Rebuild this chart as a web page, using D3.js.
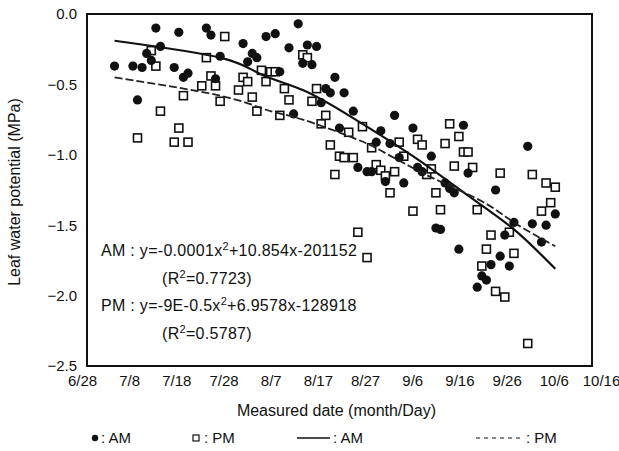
<!DOCTYPE html>
<html>
<head>
<meta charset="utf-8">
<script src="https://cdn.jsdelivr.net/npm/d3@7"></script>
<style>
  body { margin: 0; background: #fff; }
  svg text { font-family: "Liberation Sans", Arial, sans-serif; fill: #111; }
</style>
</head>
<body>
<div id="chart"></div>
<script>
// morning readings (month/day, MPa)
var amDates = ["7/4","7/8","7/9","7/10","7/11","7/12","7/13","7/14","7/17","7/18","7/19","7/20",
  "7/24","7/25","7/26","7/27","8/1","8/2","8/3","8/4","8/6","8/8","8/9","8/11","8/12","8/13",
  "8/14","8/15","8/16","8/17","8/18","8/19","8/20","8/21","8/22","8/23","8/25","8/26","8/28",
  "8/29","8/30","8/31","9/1","9/2","9/3","9/4","9/5","9/7","9/8","9/9","9/11","9/12","9/13",
  "9/14","9/15","9/16","9/17","9/18","9/19","9/21","9/22","9/23","9/24","9/25","9/26","9/27",
  "9/28","9/29","10/2","10/3","10/5","10/6","10/8"];
var amValues = [-0.37,-0.37,-0.61,-0.38,-0.28,-0.33,-0.10,-0.23,-0.38,-0.13,-0.45,-0.42,
  -0.10,-0.15,-0.46,-0.30,-0.21,-0.34,-0.28,-0.31,-0.16,-0.14,-0.41,-0.24,-0.71,-0.07,
  -0.35,-0.22,-0.36,-0.23,-0.63,-0.53,-0.56,-0.45,-0.81,-0.56,-0.69,-1.09,-1.12,
  -1.12,-0.91,-0.83,-1.19,-0.92,-0.72,-1.02,-1.20,-0.81,-1.09,-1.12,-1.01,-1.52,-1.53,
  -1.20,-1.24,-1.27,-1.67,-0.79,-1.13,-1.94,-1.86,-1.89,-1.78,-1.25,-1.72,-1.57,
  -1.79,-1.48,-0.94,-1.49,-1.62,-1.50,-1.42];

// afternoon readings
var pmDates = ["7/9","7/12","7/13","7/14","7/17","7/18","7/19","7/20","7/23","7/24","7/25","7/26",
  "7/27","7/28","7/31","8/1","8/2","8/3","8/4","8/5","8/6","8/7","8/8","8/9","8/10","8/11",
  "8/14","8/15","8/16","8/17","8/18","8/19","8/20","8/21","8/22","8/23","8/24","8/25","8/26",
  "8/27","8/28","8/29","8/30","8/31","9/1","9/2","9/3","9/4","9/5","9/7","9/8","9/9","9/10",
  "9/11","9/12","9/13","9/14","9/15","9/16","9/17","9/18","9/19","9/20","9/21","9/22","9/23",
  "9/24","9/25","9/26","9/27","9/28","9/29","10/2","10/3","10/5","10/6","10/7","10/8"];
var pmValues = [-0.88,-0.26,-0.37,-0.69,-0.91,-0.81,-0.58,-0.91,-0.51,-0.31,-0.44,-0.51,
  -0.62,-0.16,-0.54,-0.45,-0.48,-0.59,-0.69,-0.40,-0.48,-0.41,-0.41,-0.72,-0.53,-0.61,
  -0.29,-0.31,-0.62,-0.53,-0.78,-0.72,-0.93,-1.14,-1.01,-1.02,-0.84,-1.02,-1.55,
  -0.80,-1.73,-0.95,-1.07,-1.11,-1.15,-1.27,-1.12,-0.91,-1.01,-1.40,-0.89,-0.93,-1.14,
  -1.10,-1.27,-1.39,-0.92,-0.78,-1.08,-0.87,-0.98,-0.98,-1.09,-1.39,-1.79,-1.67,
  -1.57,-1.97,-1.13,-2.01,-1.55,-1.70,-2.34,-1.14,-1.40,-1.20,-1.34,-1.23];

// trend lines
var amTrendDates = ["7/4","7/27","8/5","8/14","8/24","9/7","9/19","9/29","10/8"];
var amTrendValues = [-0.19,-0.31,-0.43,-0.54,-0.72,-1.01,-1.29,-1.53,-1.81];
var pmTrendDates = ["7/4","7/27","8/6","8/14","8/25","8/31","9/11","9/22","9/29","10/8"];
var pmTrendValues = [-0.45,-0.58,-0.68,-0.75,-0.88,-0.97,-1.16,-1.33,-1.48,-1.65];

var xTickLabels = ["6/28","7/8","7/18","7/28","8/7","8/17","8/27","9/6","9/16","9/26","10/6","10/16"];
var yTicks = [0, -0.5, -1, -1.5, -2, -2.5];

var eqLines = [
  {label: "AM : y=-0.0001x", sup: "2", rest: "+10.854x-201152", indent: false},
  {label: "(R", sup: "2", rest: "=0.7723)", indent: true},
  {label: "PM : y=-9E-0.5x", sup: "2", rest: "+6.9578x-128918", indent: false},
  {label: "(R", sup: "2", rest: "=0.5787)", indent: true}
];

var W = 619, H = 451;
var margin = {top: 14, right: 27, bottom: 85, left: 87};
var width = W - margin.left - margin.right,
    height = H - margin.top - margin.bottom;

var parse = function(s) {
  var p = s.split("/");
  return new Date(2009, +p[0] - 1, +p[1]);
};

var svg = d3.select("#chart").append("svg")
  .attr("width", W).attr("height", H)
  .append("g")
  .attr("transform", "translate(" + margin.left + "," + margin.top + ")");

var x = d3.scaleTime()
  .domain([parse(xTickLabels[0]), parse(xTickLabels[xTickLabels.length - 1])])
  .range([0, width]);
var y = d3.scaleLinear().domain([0, -2.5]).range([0, height]);

// the printed labels sit a little wider than the frame
var xLab = x.copy().range([-5, width + 9]);

svg.append("g")
  .attr("transform", "translate(0," + height + ")")
  .call(d3.axisBottom(xLab)
    .tickValues(xTickLabels.map(parse))
    .tickFormat(d3.timeFormat("%-m/%-d"))
    .tickSize(0).tickPadding(9))
  .call(function(g) { g.select(".domain").remove(); })
  .selectAll("text").style("font-size", "15px");

svg.append("g")
  .call(d3.axisLeft(y)
    .tickValues(yTicks)
    .tickFormat(d3.format(".1f"))
    .tickSize(0).tickPadding(10))
  .call(function(g) { g.select(".domain").remove(); })
  .selectAll("text").style("font-size", "15px");

// frame
svg.append("rect")
  .attr("width", width).attr("height", height)
  .attr("fill", "none").attr("stroke", "#111").attr("stroke-width", 2);

svg.append("text")
  .attr("text-anchor", "middle")
  .attr("transform", "translate(-67," + (height / 2 + 2) + ") rotate(-90)")
  .style("font-size", "16px")
  .text("Leaf water potential (MPa)");

svg.append("text")
  .attr("text-anchor", "middle")
  .attr("x", width / 2 - 3)
  .attr("y", height + 50)
  .style("font-size", "16px")
  .text("Measured date (month/Day)");

// points
var amData = amDates.map(function(d, i) { return {date: parse(d), v: amValues[i]}; });
var pmData = pmDates.map(function(d, i) { return {date: parse(d), v: pmValues[i]}; });

var sq = 8;
svg.append("g").selectAll("rect")
  .data(pmData).enter().append("rect")
  .attr("x", function(d) { return x(d.date) - sq / 2; })
  .attr("y", function(d) { return y(d.v) - sq / 2; })
  .attr("width", sq).attr("height", sq)
  .attr("fill", "#fff").attr("stroke", "#111").attr("stroke-width", 1.6);

svg.append("g").selectAll("circle")
  .data(amData).enter().append("circle")
  .attr("cx", function(d) { return x(d.date); })
  .attr("cy", function(d) { return y(d.v); })
  .attr("r", 4.6)
  .attr("fill", "#111");

// trend lines
var line = d3.line()
  .x(function(d) { return x(d.date); })
  .y(function(d) { return y(d.v); })
  .curve(d3.curveNatural);

var amTrend = amTrendDates.map(function(d, i) { return {date: parse(d), v: amTrendValues[i]}; });
var pmTrend = pmTrendDates.map(function(d, i) { return {date: parse(d), v: pmTrendValues[i]}; });

svg.append("path").datum(amTrend)
  .attr("d", line).attr("fill", "none")
  .attr("stroke", "#111").attr("stroke-width", 2.2);

svg.append("path").datum(pmTrend)
  .attr("d", line).attr("fill", "none")
  .attr("stroke", "#222").attr("stroke-width", 1.8)
  .style("stroke-dasharray", "8,3");

// regression equations
var eq = svg.append("g").selectAll("text")
  .data(eqLines).enter().append("text")
  .attr("x", function(d) { return d.indent ? 75 : 14; })
  .attr("y", function(d, i) { return 242 + i * 27.5; })
  .style("font-size", "16px")
  .style("letter-spacing", "0.3px");
eq.append("tspan").text(function(d) { return d.label; });
eq.append("tspan").attr("dy", -6).style("font-size", "11px").text(function(d) { return d.sup; });
eq.append("tspan").attr("dy", 6).text(function(d) { return d.rest; });

// legend
var leg = d3.select("svg").append("g").attr("transform", "translate(0,438)");
leg.append("circle").attr("cx", 95).attr("cy", 0).attr("r", 3.2).attr("fill", "#111");
leg.append("text").attr("x", 101).attr("y", 5).style("font-size", "15px").text(": AM");
leg.append("rect").attr("x", 193).attr("y", -3).attr("width", 6).attr("height", 6)
  .attr("fill", "#fff").attr("stroke", "#111").attr("stroke-width", 1.2);
leg.append("text").attr("x", 204).attr("y", 5).style("font-size", "15px").text(": PM");
leg.append("line").attr("x1", 297).attr("x2", 330).attr("y1", 0).attr("y2", 0)
  .attr("stroke", "#111").attr("stroke-width", 1.6);
leg.append("text").attr("x", 333).attr("y", 5).style("font-size", "15px").text(": AM");
leg.append("line").attr("x1", 476).attr("x2", 524).attr("y1", 0).attr("y2", 0)
  .attr("stroke", "#111").attr("stroke-width", 1.2).style("stroke-dasharray", "4,4");
leg.append("text").attr("x", 526).attr("y", 5).style("font-size", "15px").text(": PM");
</script>
</body>
</html>
